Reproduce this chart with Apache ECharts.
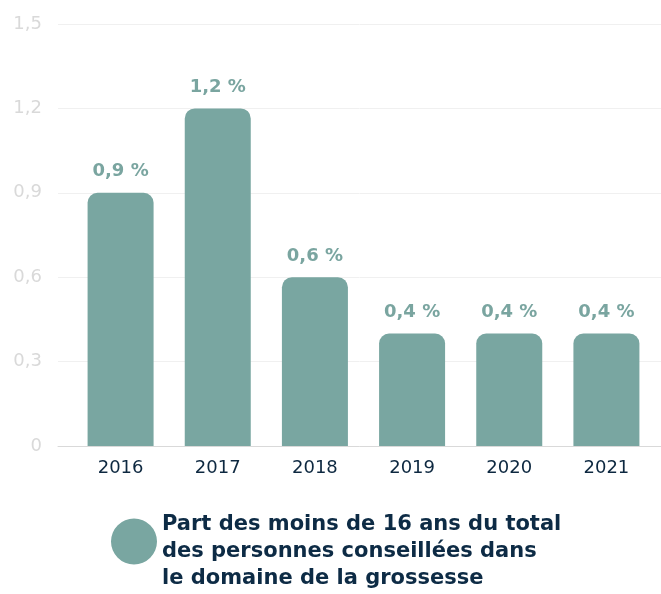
<!DOCTYPE html>
<html>
<head>
<meta charset="utf-8">
<script src="https://cdn.jsdelivr.net/npm/echarts@6/dist/echarts.min.js"></script>
<style>
  html, body { margin: 0; padding: 0; background: #fff; }
  #chart { width: 661px; height: 594px; }
</style>
</head>
<body>
<div id="chart"></div>
<script>
'use strict';
var years = ['2016', '2017', '2018', '2019', '2020', '2021'];
var shares = [0.9, 1.2, 0.6, 0.4, 0.4, 0.4];
var seriesName = 'Part des moins de 16 ans du total des personnes conseillées dans le domaine de la grossesse';

function fr(v) {
  return String(v).replace('.', ',');
}

var chart = echarts.init(document.getElementById('chart'));
var option = {
  animation: false,
  textStyle: { fontFamily: 'DejaVu Sans' },
  grid: [
    { left: 58, right: 0, top: 24, bottom: 148 },
    { left: 72, right: 6, top: 24, bottom: 148 }
  ],
  xAxis: [
    {
      gridIndex: 0, type: 'category', data: years,
      axisLine: { show: true, lineStyle: { color: '#d9d9d9', width: 1 } },
      axisTick: { show: false }, axisLabel: { show: false }
    },
    {
      gridIndex: 1, type: 'category', data: years,
      axisLine: { show: false }, axisTick: { show: false },
      axisLabel: { color: '#0d2840', fontSize: 18, margin: 13 }
    }
  ],
  yAxis: [
    {
      gridIndex: 0, type: 'value', min: 0, max: 1.5, interval: 0.3,
      axisLabel: { color: '#d9d9d9', fontSize: 18, margin: 16, formatter: fr },
      splitLine: { lineStyle: { color: '#f0f0f0' } }
    },
    {
      gridIndex: 1, type: 'value', min: 0, max: 1.5, interval: 0.3,
      axisLabel: { show: false }, splitLine: { show: false }
    }
  ],
  legend: {
    left: 106, top: 506,
    // circle sitting a little above the centre of the three text lines
    icon: 'path://M0,23A23,23,0,1,1,46,23A23,23,0,1,1,0,23ZM23,66L23,66Z',
    itemWidth: 46, itemHeight: 66, itemGap: 10,
    textStyle: { color: '#0d2b45', fontSize: 21, fontWeight: 'bold', lineHeight: 27 },
    formatter: function () {
      return 'Part des moins de 16 ans du total\ndes personnes conseillées dans\nle domaine de la grossesse';
    }
  },
  series: [{
    name: seriesName,
    type: 'bar',
    xAxisIndex: 1, yAxisIndex: 1,
    data: shares,
    barWidth: 66,
    itemStyle: { color: '#79a6a1', borderRadius: [10, 10, 0, 0] },
    label: {
      show: true, position: 'top', distance: 12,
      color: '#7aa5a0', fontSize: 18, fontWeight: 'bold',
      formatter: function (p) { return fr(p.value) + ' %'; }
    }
  }]
};
chart.setOption(option);
</script>
</body>
</html>
